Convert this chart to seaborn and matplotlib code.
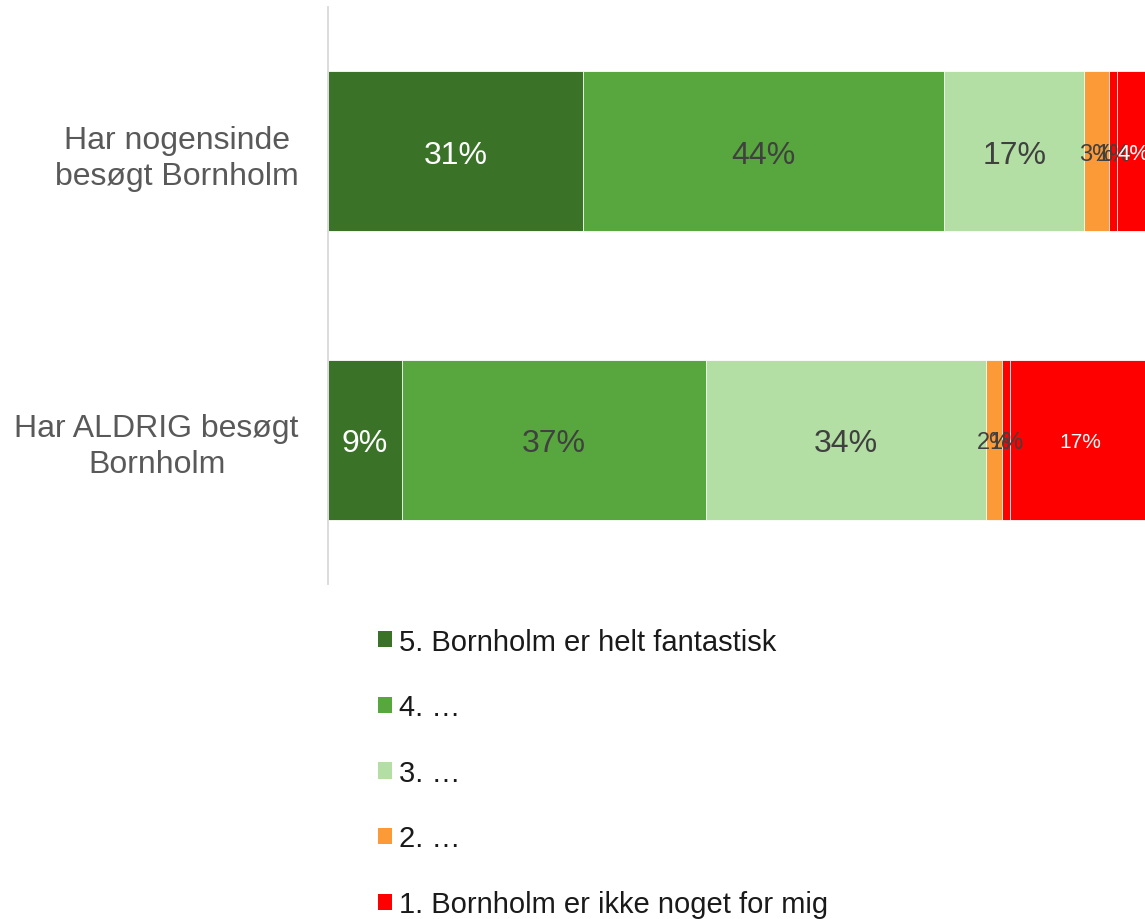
import numpy as np
import pandas as pd
import matplotlib
matplotlib.use("Agg")
import matplotlib.pyplot as plt
import seaborn as sns
from matplotlib.patches import Patch

# ---- data ----
groups = ["Har nogensinde\nbesøgt Bornholm", "Har ALDRIG besøgt\nBornholm"]
series_names = ["5. Bornholm er helt fantastisk", "4. …", "3. …", "2. …",
                "1. Bornholm er ikke noget for mig", "Ved ikke"]
values = {
    "5. Bornholm er helt fantastisk": [31, 9],
    "4. …": [44, 37],
    "3. …": [17, 34],
    "2. …": [3, 2],
    "1. Bornholm er ikke noget for mig": [1, 1],
    "Ved ikke": [4, 17],
}
colors = ["#3A7328", "#58A73E", "#B3DEA4", "#FD9A38", "#FF0000", "#FF0000"]
label_colors = ["white", "#404040", "#404040", "#404040", "#404040", "white"]
label_sizes = [23, 23, 23, 17, 17, 16]
legend_count = 5

sns.set_theme(style="white")
plt.rcParams["font.family"] = ["Liberation Sans", "DejaVu Sans"]

W, H = 1145, 920
fig = plt.figure(figsize=(W / 100, H / 100), dpi=100)
ax = fig.add_axes([328 / W, 1 - 585 / H, 822 / W, 577 / H])

df = pd.DataFrame(values, index=groups) / 100.0
cum = df.cumsum(axis=1)

# draw cumulative bars from largest to smallest (stacked look)
for i in range(len(series_names) - 1, -1, -1):
    name = series_names[i]
    d = pd.DataFrame({"group": groups, "x": cum[name].values})
    sns.barplot(data=d, x="x", y="group", orient="h", color=colors[i],
                saturation=1, width=0.554, errorbar=None,
                edgecolor="white", linewidth=0.6, ax=ax)

# segment labels
for i, name in enumerate(series_names):
    for j, g in enumerate(groups):
        v = df.loc[g, name]
        center = cum.loc[g, name] - v / 2
        size = label_sizes[i]
        if i == 5 and j == 1:
            size = 15
        ax.text(center, j, f"{v * 100:.0f}%", ha="center", va="center_baseline",
                color=label_colors[i], fontsize=size)

ax.set_xlim(0, 1)
ax.set_ylim(1.5, -0.5)
ax.set_xlabel("")
ax.set_ylabel("")
ax.set_xticks([])
for s in ["top", "right", "bottom"]:
    ax.spines[s].set_visible(False)
ax.spines["left"].set_color("#D9D9D9")
ax.spines["left"].set_linewidth(1.3)
ax.tick_params(axis="y", length=0, pad=21, labelsize=23, labelcolor="#595959")
for lab in ax.get_yticklabels():
    lab.set_multialignment("center")
    lab.set_linespacing(1.25)

handles = [Patch(facecolor=colors[i], edgecolor="none") for i in range(legend_count)]
fig.legend(handles, series_names[:legend_count], loc="upper left",
           bbox_to_anchor=(363 / W, 1 - 614 / H), frameon=False,
           fontsize=21, handlelength=0.48, handleheight=0.48,
           handletextpad=0.25, labelspacing=1.29, borderpad=0,
           labelcolor="#1a1a1a")

fig.savefig("out.png", dpi=100)
